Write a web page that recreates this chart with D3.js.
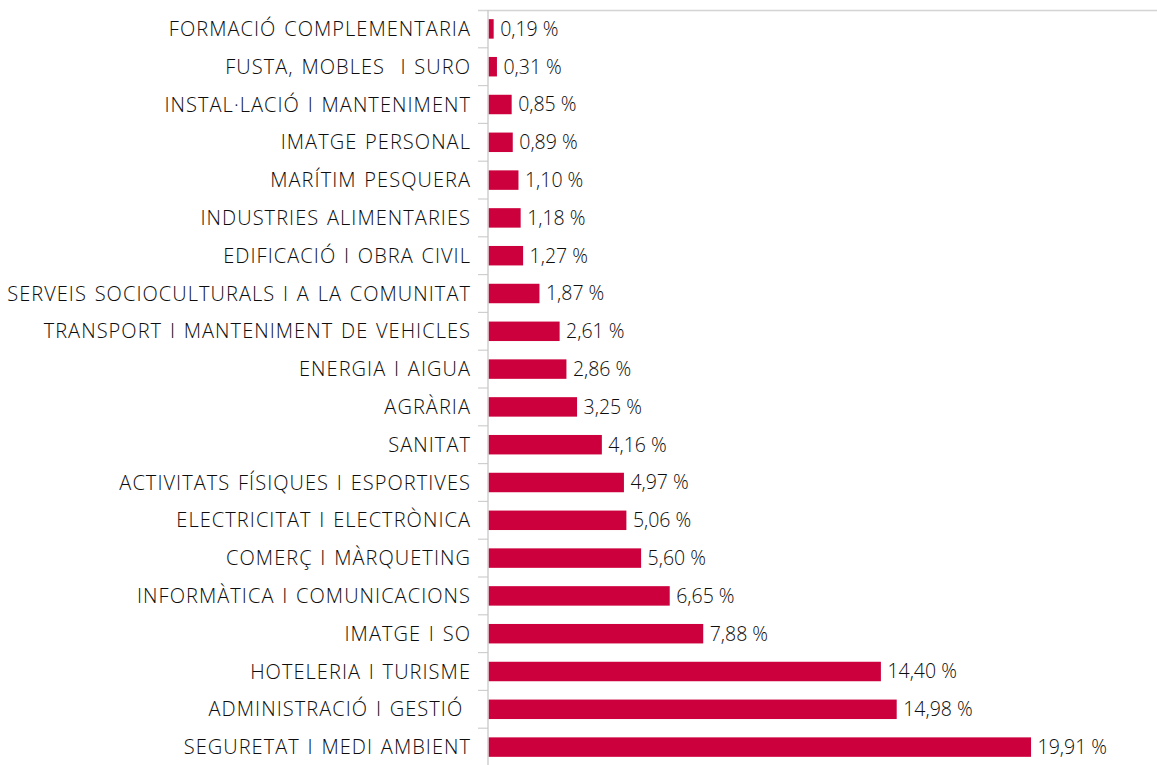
<!DOCTYPE html>
<html>
<head>
<meta charset="utf-8">
<script src="https://cdn.jsdelivr.net/npm/d3@7"></script>
<style>
  body { margin: 0; background: #fff; }
  svg text { font-family: "Open Sans", Lato, sans-serif; fill: #0d0d0d; white-space: pre; font-weight: 300; }
</style>
</head>
<body>
<div id="chart"></div>
<script>
const categories = [
  "FORMACIÓ COMPLEMENTARIA",
  "FUSTA, MOBLES  I SURO",
  "INSTAL·LACIÓ I MANTENIMENT",
  "IMATGE PERSONAL",
  "MARÍTIM PESQUERA",
  "INDUSTRIES ALIMENTARIES",
  "EDIFICACIÓ I OBRA CIVIL",
  "SERVEIS SOCIOCULTURALS I A LA COMUNITAT",
  "TRANSPORT I MANTENIMENT DE VEHICLES",
  "ENERGIA I AIGUA",
  "AGRÀRIA",
  "SANITAT",
  "ACTIVITATS FÍSIQUES I ESPORTIVES",
  "ELECTRICITAT I ELECTRÒNICA",
  "COMERÇ I MÀRQUETING",
  "INFORMÀTICA I COMUNICACIONS",
  "IMATGE I SO",
  "HOTELERIA I TURISME",
  "ADMINISTRACIÓ I GESTIÓ ",
  "SEGURETAT I MEDI AMBIENT"
];
const values = [0.19, 0.31, 0.85, 0.89, 1.10, 1.18, 1.27, 1.87, 2.61, 2.86,
                3.25, 4.16, 4.97, 5.06, 5.60, 6.65, 7.88, 14.40, 14.98, 19.91];

const width = 1157, height = 765;
const margins = { top: 10, left: 488 };
const bandH = 37.8;
const pxPerUnit = 27.25;

const svg = d3.select("#chart").append("svg")
  .attr("width", width).attr("height", height);

const y = d3.scaleBand()
  .domain(categories)
  .range([margins.top, margins.top + bandH * categories.length])
  .paddingInner(0.485).paddingOuter(0.2425);

const x = d3.scaleLinear()
  .domain([0, 20])
  .range([margins.left, margins.left + 20 * pxPerUnit]);

// top border line
svg.append("line")
  .attr("x1", margins.left - 10).attr("x2", width)
  .attr("y1", margins.top + 0.5).attr("y2", margins.top + 0.5)
  .attr("stroke", "#d4d4d4").attr("stroke-width", 1.3);

// boundary ticks
svg.append("g").selectAll("line")
  .data(d3.range(1, categories.length + 1))
  .join("line")
  .attr("x1", margins.left - 10).attr("x2", margins.left)
  .attr("y1", i => margins.top + i * bandH)
  .attr("y2", i => margins.top + i * bandH)
  .attr("stroke", "#cfcfcf").attr("stroke-width", 1.2);

// bars
svg.append("g").selectAll("rect")
  .data(values)
  .join("rect")
  .attr("x", x(0) + 0.5)
  .attr("y", (d, i) => y(categories[i]))
  .attr("width", d => x(d) - x(0))
  .attr("height", y.bandwidth())
  .attr("fill", "#cc003d");

// axis line
svg.append("line")
  .attr("x1", margins.left).attr("x2", margins.left)
  .attr("y1", margins.top).attr("y2", height)
  .attr("stroke", "#c8c8c8").attr("stroke-width", 1.3);

// category labels
svg.append("g").selectAll("text")
  .data(categories)
  .join("text")
  .attr("x", margins.left - 17)
  .attr("y", d => y(d) + y.bandwidth() / 2)
  .attr("dy", "0.35em")
  .attr("text-anchor", "end")
  .style("font-size", "20px")
  .style("letter-spacing", "1.05px")
  .style("word-spacing", "1.5px")
  .text(d => d);

// value labels
svg.append("g").selectAll("text")
  .data(values)
  .join("text")
  .attr("x", d => x(d) + 7)
  .attr("y", (d, i) => y(categories[i]) + y.bandwidth() / 2)
  .attr("dy", "0.35em")
  .style("font-size", "19.5px")
  .text(d => d.toFixed(2).replace(".", ",") + " %");
</script>
</body>
</html>
